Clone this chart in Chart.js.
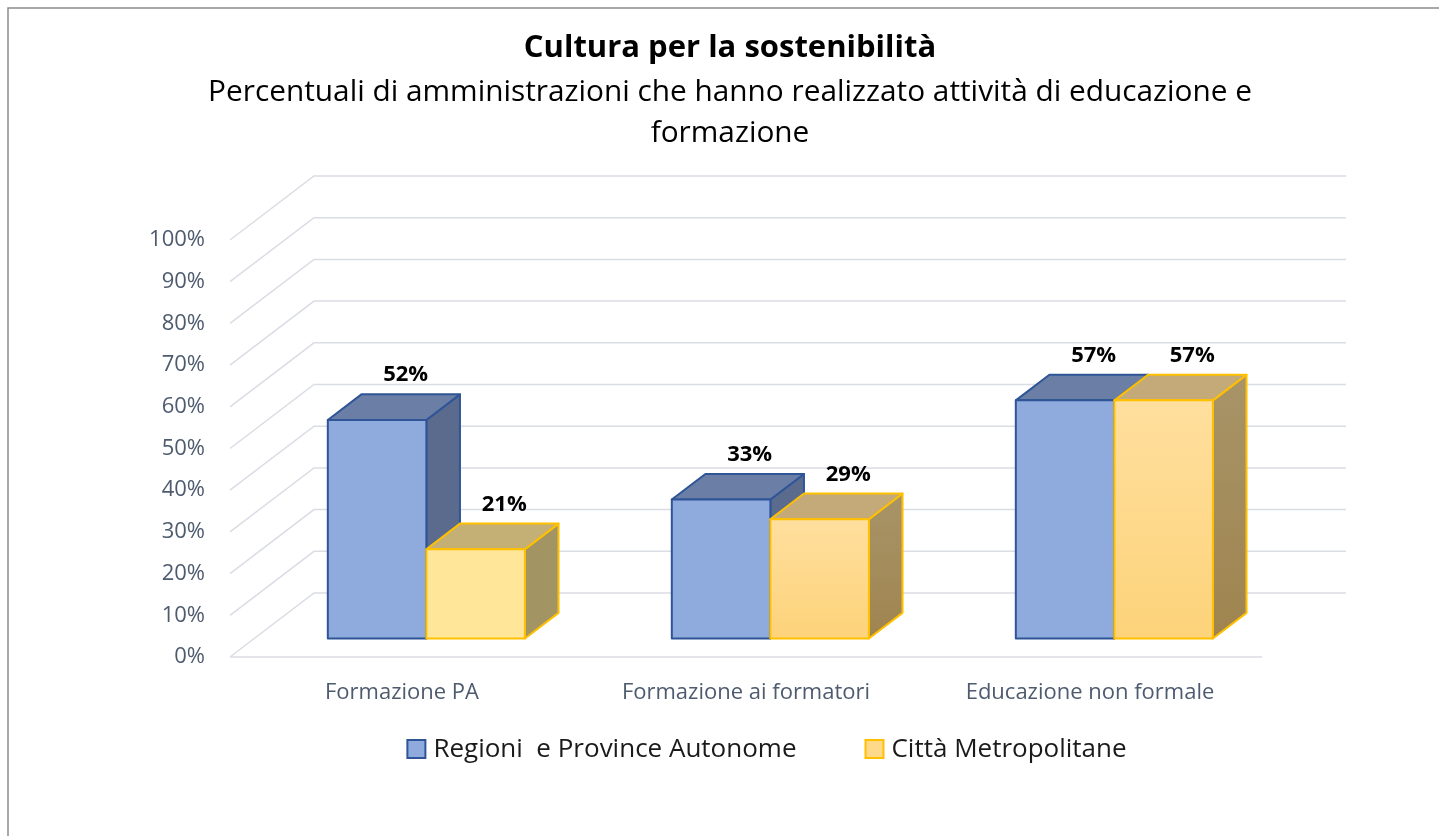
<!DOCTYPE html>
<html>
<head>
<meta charset="utf-8">
<script src="https://cdn.jsdelivr.net/npm/chart.js@4.4.1/dist/chart.umd.min.js"></script>
<style>
  html, body { margin: 0; padding: 0; background: #fff; }
  canvas { display: block; }
</style>
</head>
<body>
<canvas id="myChart" width="1439" height="836"></canvas>
<script>
// dati
const categorie = ["Formazione PA", "Formazione ai formatori", "Educazione non formale"];
const serie = ["Regioni  e Province Autonome", "Città Metropolitane"];
const regioni = [52.4, 33.3, 57.1];
const citta = [21.4, 28.6, 57.1];
const yMin = 0;
const yMax = 100;
const yStep = 10;

const font = "'Open Sans', 'Noto Sans', sans-serif";
const coloreAssi = "#4e5b6f";
const coloreGriglia = "#dadde4";

// profondita' della parete di fondo e posizione delle barre nella profondita'
const prof = { x: 84, y: -64 };
const barFront = 0.29;
const barBack = 0.69;

const stili = [
  { front: "#8FAADC", top: "#6B7FA6", side: "#5A6B8E", bordo: "#2F5597" },
  { front: "#FFE699", frontTop: "#FFDF9E", frontBottom: "#FDD37A", top: "#C3AA78", topFirst: "#C4B074",
    side: "#A89468", sideBottom: "#9F844F", sideFirst: "#A39463", bordo: "#FFC000" },
];

function faccia(ctx, pts, fill, stroke) {
  ctx.beginPath();
  ctx.moveTo(pts[0][0], pts[0][1]);
  for (let i = 1; i < pts.length; i++) ctx.lineTo(pts[i][0], pts[i][1]);
  ctx.closePath();
  ctx.fillStyle = fill;
  ctx.fill();
  ctx.strokeStyle = stroke;
  ctx.stroke();
}

const grafico3d = {
  id: "grafico3d",
  beforeDraw(chart) {
    const ctx = chart.ctx;
    ctx.save();
    ctx.fillStyle = "#fff";
    ctx.fillRect(0, 0, chart.width, chart.height);
    // cornice
    ctx.strokeStyle = "#8c8c8c";
    ctx.lineWidth = 1.5;
    ctx.beginPath();
    ctx.moveTo(8, chart.height);
    ctx.lineTo(8, 8);
    ctx.lineTo(chart.width, 8);
    ctx.stroke();
    ctx.restore();
  },
  beforeDatasetsDraw(chart) {
    const { ctx, chartArea: a } = chart;
    const y = chart.scales.y;
    ctx.save();
    // pareti
    ctx.strokeStyle = coloreGriglia;
    ctx.lineWidth = 1.5;
    y.ticks.forEach((t) => {
      const yf = y.getPixelForValue(t.value);
      ctx.beginPath();
      ctx.moveTo(a.left, yf);
      ctx.lineTo(a.left + prof.x, yf + prof.y);
      ctx.lineTo(a.right + prof.x, yf + prof.y);
      ctx.stroke();
    });
    const y0 = y.getPixelForValue(0);
    ctx.beginPath();
    ctx.moveTo(a.left, y0);
    ctx.lineTo(a.right, y0);
    ctx.stroke();

    // barre 3d
    const fx = prof.x * barFront, fy = prof.y * barFront;
    const dx = prof.x * (barBack - barFront), dy = prof.y * (barBack - barFront);
    const etichette = [];
    ctx.lineWidth = 2;
    ctx.lineJoin = "round";
    categorie.forEach((c, i) => {
      chart.data.datasets.forEach((ds, di) => {
        const bar = chart.getDatasetMeta(di).data[i];
        const p = bar.getProps(["x", "y", "base", "width"], true);
        const s = stili[di];
        const x0 = p.x - p.width / 2 + fx, x1 = p.x + p.width / 2 + fx;
        const top = p.y + fy, bot = p.base + fy;
        let side = s.side, topC = s.top, front = s.front;
        if (di === 1) {
          if (i === 0) {
            side = s.sideFirst;
            topC = s.topFirst;
          } else {
            const g = ctx.createLinearGradient(0, top, 0, bot);
            g.addColorStop(0, s.frontTop);
            g.addColorStop(1, s.frontBottom);
            front = g;
            const gs = ctx.createLinearGradient(0, top + dy, 0, bot);
            gs.addColorStop(0, s.side);
            gs.addColorStop(1, s.sideBottom);
            side = gs;
          }
        }
        faccia(ctx, [[x1, top], [x1 + dx, top + dy], [x1 + dx, bot + dy], [x1, bot]], side, s.bordo);
        faccia(ctx, [[x0, top], [x0 + dx, top + dy], [x1 + dx, top + dy], [x1, top]], topC, s.bordo);
        faccia(ctx, [[x0, top], [x1, top], [x1, bot], [x0, bot]], front, s.bordo);
        etichette.push({ x: (x0 + x1) / 2 + dx - 5, y: top + dy - 13, v: ds.data[i] });
      });
    });

    ctx.fillStyle = "#000";
    ctx.font = "bold 22px " + font;
    ctx.textAlign = "center";
    ctx.textBaseline = "alphabetic";
    etichette.forEach((e) => ctx.fillText(Math.round(e.v) + "%", e.x, e.y));
    ctx.restore();
    return false;
  },
  afterDraw(chart) {
    // legenda
    const ctx = chart.ctx;
    ctx.save();
    ctx.font = "26px " + font;
    ctx.textBaseline = "middle";
    ctx.textAlign = "left";
    const box = 18, gap = 8, spazio = 69, cy = 749, centro = 767;
    const larghezze = serie.map((s) => ctx.measureText(s).width);
    const totale = larghezze.reduce((t, w) => t + box + gap + w, 0) + spazio;
    let x = centro - totale / 2;
    const riempimenti = ["#8FAADC", "#FFD98A"];
    serie.forEach((s, di) => {
      ctx.fillStyle = riempimenti[di];
      ctx.fillRect(x, cy - box / 2, box, box);
      ctx.strokeStyle = stili[di].bordo;
      ctx.lineWidth = 2;
      ctx.strokeRect(x, cy - box / 2, box, box);
      ctx.fillStyle = "#1a1a1a";
      ctx.fillText(s, x + box + gap, cy + 1);
      x += box + gap + larghezze[di] + spazio;
    });
    ctx.restore();
  },
};

const ctx = document.getElementById("myChart");

new Chart(ctx, {
  type: "bar",
  data: {
    labels: categorie,
    datasets: [
      { label: serie[0], data: regioni, backgroundColor: "#8FAADC", borderColor: "#2F5597" },
      { label: serie[1], data: citta, backgroundColor: "#FFD98A", borderColor: "#FFC000" },
    ],
  },
  options: {
    responsive: false,
    animation: false,
    layout: { padding: { left: 21, right: 0, top: 10, bottom: 109 } },
    datasets: { bar: { categoryPercentage: 0.573, barPercentage: 1 } },
    scales: {
      x: {
        grid: { display: false },
        border: { display: false },
        ticks: { color: coloreAssi, font: { family: font, size: 22 }, padding: 15, maxRotation: 0, autoSkip: false },
        afterFit: (s) => { s.height = 70; },
      },
      y: {
        min: yMin,
        max: yMax,
        grid: { display: false },
        border: { display: false },
        ticks: {
          stepSize: yStep,
          color: coloreAssi,
          font: { family: font, size: 22 },
          padding: 17,
          callback: (v) => v + "%",
        },
        afterFit: (s) => { s.width = 209; },
      },
      // spazio a destra per la profondita' della parete
      destra: {
        position: "right",
        grid: { display: false },
        border: { display: false },
        ticks: { display: false },
        afterFit: (s) => { s.width = 177; },
      },
    },
    plugins: {
      legend: { display: false },
      tooltip: { enabled: false },
      title: {
        display: true,
        text: "Cultura per la sostenibilità",
        color: "#000",
        font: { family: font, size: 31, weight: "bold", lineHeight: 1.2 },
        padding: { top: 20, bottom: 0 },
      },
      subtitle: {
        display: true,
        text: ["Percentuali di amministrazioni che hanno realizzato attività di educazione e", "formazione"],
        color: "#000",
        font: { family: font, size: 29.8, lineHeight: "41px" },
        padding: { top: 4.5, bottom: 86.3 },
      },
    },
  },
  plugins: [grafico3d],
});
</script>
</body>
</html>
